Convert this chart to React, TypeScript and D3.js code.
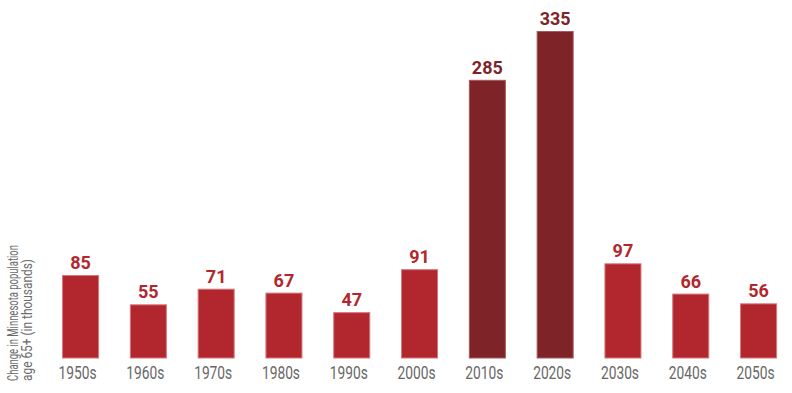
import React, { useEffect, useRef } from 'react'
import * as d3 from 'd3'

const decades = ['1950s', '1960s', '1970s', '1980s', '1990s', '2000s', '2010s', '2020s', '2030s', '2040s', '2050s']
const change = [85, 55, 71, 67, 47, 91, 285, 335, 97, 66, 56]
const highlighted = ['2010s', '2020s']

const font = 'Roboto, "Noto Sans", sans-serif'

export default function App() {
  const ref = useRef<SVGSVGElement | null>(null)

  useEffect(() => {
    if (!ref.current) return
    const svg = d3.select(ref.current)
    svg.selectAll('*').remove()

    const width = 792, height = 393
    const baseline = 358

    // step ~67.8px, bar ~37px
    const x = d3.scaleBand().domain(decades).range([41.7, 797.4]).paddingInner(0.454).paddingOuter(0.3)
    const y = d3.scaleLinear().domain([0, 335]).range([baseline, 31])

    const data = decades.map((d, i) => ({ decade: d, value: change[i] }))
    const fill = (d: string) => highlighted.includes(d) ? '#7e2428' : '#b2272e'
    const edge = (d: string) => highlighted.includes(d) ? '#a5595c' : '#d8767b'

    svg.attr('width', width).attr('height', height).style('display', 'block')

    svg.selectAll('rect.bar').data(data).enter().append('rect')
      .attr('class', 'bar')
      .attr('x', d => x(d.decade)! + 0.5)
      .attr('y', d => y(d.value) + 0.5)
      .attr('width', x.bandwidth() - 1)
      .attr('height', d => baseline - y(d.value) - 0.5)
      .attr('fill', d => fill(d.decade))
      .attr('stroke', d => edge(d.decade))
      .attr('stroke-width', 1)

    svg.selectAll('text.val').data(data).enter().append('text')
      .attr('class', 'val')
      .attr('x', d => x(d.decade)! + x.bandwidth() / 2)
      .attr('y', d => y(d.value) - 6)
      .attr('text-anchor', 'middle')
      .attr('font-family', font)
      .attr('font-weight', 'bold')
      .attr('font-size', 18)
      .attr('fill', d => fill(d.decade))
      .text(d => d.value)

    const axis = svg.append('g').attr('transform', `translate(-3,${baseline})`)
      .call(d3.axisBottom(x).tickSize(0).tickPadding(0))
    axis.select('.domain').remove()
    axis.selectAll('text')
      .attr('dy', null)
      .attr('y', 21)
      .attr('font-family', font)
      .attr('font-size', 18.5)
      .attr('fill', '#676767')
      .attr('textLength', 38)
      .attr('lengthAdjust', 'spacingAndGlyphs')

    const label = svg.append('text')
      .attr('transform', 'translate(18,381) rotate(-90)')
      .attr('font-family', font)
      .attr('font-size', 15)
      .attr('fill', '#6b6b6b')
    label.append('tspan').attr('x', 0).attr('y', 0)
      .attr('textLength', 136).attr('lengthAdjust', 'spacingAndGlyphs')
      .text('Change in Minnesota population')
    label.append('tspan').attr('x', 0).attr('y', 13.5)
      .attr('textLength', 122).attr('lengthAdjust', 'spacingAndGlyphs')
      .text('age 65+ (in thousands)')
  }, [])

  return <svg ref={ref} style={{ position: 'absolute', left: 0, top: 0 }} />
}
